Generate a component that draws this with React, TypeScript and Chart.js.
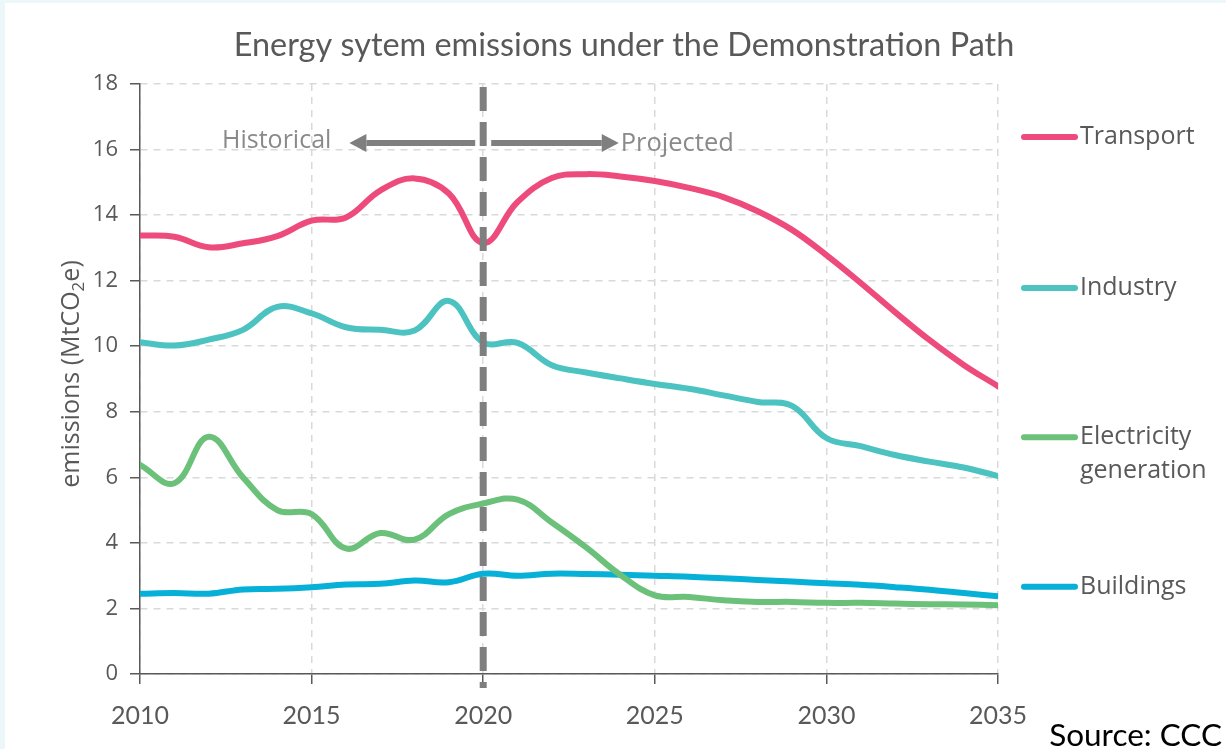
import React, { useEffect, useRef } from "react";
import { Chart, registerables } from "chart.js";

Chart.register(...registerables);

const years = [2010, 2011, 2012, 2013, 2014, 2015, 2016, 2017, 2018, 2019, 2020, 2021, 2022, 2023, 2024, 2025, 2026, 2027, 2028, 2029, 2030, 2031, 2032, 2033, 2034, 2035];
const transport = [13.38, 13.34, 13.02, 13.14, 13.36, 13.83, 13.93, 14.75, 15.12, 14.66, 13.15, 14.4, 15.13, 15.25, 15.18, 15.04, 14.83, 14.55, 14.12, 13.55, 12.78, 11.93, 11.04, 10.19, 9.43, 8.78];
const industry = [10.12, 10.02, 10.2, 10.5, 11.2, 11.0, 10.58, 10.5, 10.48, 11.38, 10.12, 10.1, 9.42, 9.2, 9.02, 8.85, 8.7, 8.5, 8.3, 8.18, 7.2, 6.95, 6.68, 6.48, 6.3, 6.04];
const electricity = [6.38, 5.82, 7.24, 6.0, 5.0, 4.88, 3.83, 4.3, 4.1, 4.88, 5.2, 5.32, 4.62, 3.86, 3.02, 2.4, 2.35, 2.25, 2.2, 2.2, 2.17, 2.17, 2.15, 2.13, 2.12, 2.1];
const buildings = [2.45, 2.47, 2.45, 2.58, 2.6, 2.65, 2.73, 2.75, 2.85, 2.8, 3.06, 3.0, 3.06, 3.05, 3.03, 3.0, 2.97, 2.92, 2.87, 2.82, 2.77, 2.72, 2.65, 2.57, 2.47, 2.37];

const seriesNames = ["Transport", "Industry", "Electricity generation", "Buildings"];
const legendLines = [["Transport"], ["Industry"], ["Electricity", "generation"], ["Buildings"]];
const legendValues = [16.38, 11.78, 7.22, 2.66];
const seriesColors = ["#ee4b7d", "#4cc3c1", "#6cc17a", "#06b0d6"];
const xTicks = [2010, 2015, 2020, 2025, 2030, 2035];
const yTicks = [0, 2, 4, 6, 8, 10, 12, 14, 16, 18];

const TITLE = "Energy sytem emissions under the Demonstration Path";
const SOURCE = "Source: CCC";
const DIVIDER_YEAR = 2020;
const ARROW_VALUE = 16.2;
const HIST_TIP = 2016.1;
const PROJ_TIP = 2023.95;

const GREY = "#595959";
const FONT = "'Open Sans', 'Noto Sans', sans-serif";
const NARROW = "Lato, 'Open Sans', sans-serif";

const decorPlugin = {
  id: "decor",
  beforeDraw(chart: any) {
    const { ctx, width, height } = chart;
    ctx.save();
    ctx.fillStyle = "#ebf7f8";
    ctx.fillRect(0, 0, width, height);
    ctx.fillStyle = "#ffffff";
    ctx.fillRect(5, 3, width - 5, height - 3);
    ctx.restore();
  },
  afterDatasetsDraw(chart: any) {
    const { ctx, scales } = chart;
    const xs = scales.x;
    const ys = scales.y;
    const xd = xs.getPixelForValue(DIVIDER_YEAR);
    ctx.save();
    ctx.strokeStyle = "#7f7f7f";
    ctx.lineWidth = 7;
    ctx.setLineDash([24, 11]);
    ctx.beginPath();
    ctx.moveTo(xd, ys.getPixelForValue(18) + 3);
    ctx.lineTo(xd, ys.getPixelForValue(0) + 14);
    ctx.stroke();
    ctx.setLineDash([]);
    const ay = ys.getPixelForValue(ARROW_VALUE);
    const drawArrow = (x0: number, x1: number) => {
      const dir = Math.sign(x1 - x0);
      const headLen = 17;
      ctx.strokeStyle = "#7f7f7f";
      ctx.fillStyle = "#7f7f7f";
      ctx.lineWidth = 6;
      ctx.beginPath();
      ctx.moveTo(x0, ay);
      ctx.lineTo(x1 - dir * headLen, ay);
      ctx.stroke();
      ctx.beginPath();
      ctx.moveTo(x1, ay);
      ctx.lineTo(x1 - dir * headLen, ay - 9);
      ctx.lineTo(x1 - dir * headLen, ay + 9);
      ctx.closePath();
      ctx.fill();
    };
    drawArrow(xd - 8, xs.getPixelForValue(HIST_TIP));
    drawArrow(xd + 8, xs.getPixelForValue(PROJ_TIP));
    ctx.fillStyle = "#8a8a8a";
    ctx.textBaseline = "middle";
    ctx.font = `25px ${FONT}`;
    ctx.textAlign = "right";
    ctx.fillText("Historical", xs.getPixelForValue(HIST_TIP) - 18, ay - 2);
    ctx.font = `25.5px ${FONT}`;
    ctx.textAlign = "left";
    ctx.fillText("Projected", xs.getPixelForValue(PROJ_TIP) + 2, ay + 1);
    ctx.restore();
  },
  afterDraw(chart: any) {
    const { ctx, scales, chartArea, width } = chart;
    const ys = scales.y;
    ctx.save();
    // title sized to the reference width
    ctx.font = `32px ${NARROW}`;
    const tw = ctx.measureText(TITLE).width;
    const ts = Math.min(36, (32 * 781) / tw);
    ctx.font = `${ts}px ${NARROW}`;
    ctx.fillStyle = GREY;
    ctx.textAlign = "center";
    ctx.textBaseline = "alphabetic";
    ctx.fillText(TITLE, 624, 56);
    // y axis title with subscript
    const cy = (chartArea.top + chartArea.bottom) / 2 - 5;
    ctx.translate(70, cy);
    ctx.rotate(-Math.PI / 2);
    const big = `25px ${FONT}`;
    const small = `17px ${FONT}`;
    const p1 = "emissions (MtCO";
    const p2 = "2";
    const p3 = "e)";
    ctx.font = big;
    const w1 = ctx.measureText(p1).width;
    const w3 = ctx.measureText(p3).width;
    ctx.font = small;
    const w2 = ctx.measureText(p2).width;
    let x = -(w1 + w2 + w3) / 2;
    ctx.textAlign = "left";
    ctx.textBaseline = "alphabetic";
    ctx.font = big;
    ctx.fillText(p1, x, 9);
    x += w1;
    ctx.font = small;
    ctx.fillText(p2, x, 14);
    x += w2;
    ctx.font = big;
    ctx.fillText(p3, x, 9);
    ctx.setTransform(1, 0, 0, 1, 0, 0);
    // legend
    ctx.lineCap = "round";
    ctx.lineWidth = 6;
    legendLines.forEach((lines, i) => {
      const y = ys.getPixelForValue(legendValues[i]);
      ctx.strokeStyle = seriesColors[i];
      ctx.beginPath();
      ctx.moveTo(1024, y);
      ctx.lineTo(1075, y);
      ctx.stroke();
      ctx.fillStyle = GREY;
      ctx.font = `25px ${FONT}`;
      ctx.textAlign = "left";
      ctx.textBaseline = "middle";
      lines.forEach((t, j) => ctx.fillText(t, 1080, y + j * 34));
    });
    // source
    ctx.font = `31.5px ${NARROW}`;
    ctx.fillStyle = "#000000";
    ctx.textAlign = "right";
    ctx.textBaseline = "alphabetic";
    ctx.fillText(SOURCE, width - 4, 746);
    ctx.restore();
  },
};

export default function App() {
  const ref = useRef<HTMLCanvasElement | null>(null);
  useEffect(() => {
    document.body.style.margin = "0";
    const canvas = ref.current;
    if (!canvas) return;
    const mk = (vals: number[]) => years.map((y, i) => ({ x: y, y: vals[i] }));
    const allSeries = [transport, industry, electricity, buildings];
    const chart = new Chart(canvas, {
      type: "line",
      data: {
        datasets: allSeries.map((vals, i) => ({
          label: seriesNames[i],
          data: mk(vals),
          borderColor: seriesColors[i],
          backgroundColor: seriesColors[i],
          borderWidth: 6,
          pointRadius: 0,
          tension: 0.4,
          borderCapStyle: "round",
          borderJoinStyle: "round",
          fill: false,
        })),
      },
      options: {
        animation: false,
        responsive: false,
        devicePixelRatio: 1,
        layout: { padding: { top: 84, right: 228, left: 0, bottom: 0 } },
        plugins: {
          legend: { display: false },
          title: { display: false },
          tooltip: { enabled: false },
        },
        scales: {
          x: {
            type: "linear",
            min: 2010,
            max: 2035,
            afterBuildTicks: (s: any) => {
              s.ticks = xTicks.map((v) => ({ value: v }));
            },
            afterFit: (s: any) => {
              s.height = 75;
            },
            ticks: {
              callback: (v: any) => String(v),
              font: { family: NARROW, size: 25 },
              color: GREY,
              padding: 17,
              maxRotation: 0,
            },
            grid: {
              color: "#d9d9d9",
              lineWidth: 1.5,
              tickLength: 10,
              tickColor: GREY,
              tickWidth: 1.5,
            },
            border: { display: true, color: GREY, width: 1.5, dash: [7, 6] },
          },
          y: {
            type: "linear",
            min: 0,
            max: 18,
            afterBuildTicks: (s: any) => {
              s.ticks = yTicks.map((v) => ({ value: v }));
            },
            afterFit: (s: any) => {
              s.width = 140;
            },
            ticks: {
              callback: (v: any) => String(v),
              font: { family: FONT, size: 22 },
              color: GREY,
              padding: 12,
            },
            grid: {
              color: "#d9d9d9",
              lineWidth: 1.5,
              tickLength: 10,
              tickColor: GREY,
              tickWidth: 1.5,
            },
            border: { display: true, color: GREY, width: 1.5, dash: [7, 6] },
          },
        },
      },
      plugins: [decorPlugin],
    });
    return () => chart.destroy();
  }, []);
  return (
    <div style={{ width: 1226, height: 749 }}>
      <canvas ref={ref} width={1226} height={749} style={{ display: "block" }} />
    </div>
  );
}
